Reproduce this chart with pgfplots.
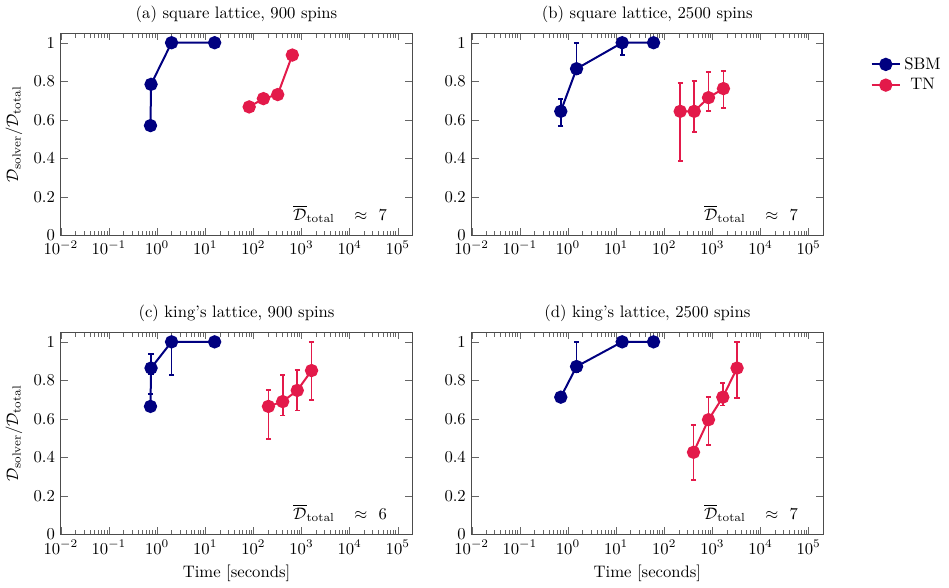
\documentclass[border=0pt]{standalone}
\usepackage{pgfplots}
\pgfplotsset{compat=1.18}
\definecolor{sbm}{RGB}{0,0,128}
\definecolor{tn}{RGB}{227,26,74}
\pgfplotsset{
  chartpanel/.style={
    scale only axis, width=211pt, height=121.5pt,
    xmin=1e-2, xmax=2e5, ymin=0, ymax=1.05,
    xtick={1e-2,1e-1,1,1e1,1e2,1e3,1e4,1e5},
    ytick={0,0.2,0.4,0.6,0.8,1},
    tick align=inside,
    axis line style={black!70},
    tick style={black!60},
    title style={yshift=-3pt},
    clip=false,
  },
  sbmline/.style={color=sbm, line width=1.2pt, mark=*, mark size=3.4pt,
    error bars/y dir=both, error bars/y explicit,
    error bars/error bar style={line width=1.1pt},
    error bars/error mark options={rotate=90, mark size=1.6pt, line width=1.1pt}},
  tnline/.style={color=tn, line width=1.2pt, mark=*, mark size=3.4pt,
    error bars/y dir=both, error bars/y explicit,
    error bars/error bar style={line width=1.1pt},
    error bars/error mark options={rotate=90, mark size=1.6pt, line width=1.1pt}},
}
\newcommand{\dnote}[1]{\node[anchor=base east] at (rel axis cs:0.945,0.075) {$\overline{\mathcal{D}}_{\mathrm{total}}\hspace{0.9em}\approx\hspace{0.4em}#1$};}
\begin{document}
\begin{tikzpicture}
% (a)
\begin{semilogxaxis}[chartpanel, at={(0,0)}, anchor=north west,
  title={(a) square lattice, 900 spins},
  ylabel={$\mathcal{D}_{\mathrm{solver}}/\mathcal{D}_{\mathrm{total}}$}]
\addplot[sbmline] coordinates {(0.73,0.57) (0.75,0.784) (2.0,1.0) (15.7,1.0)};
\addplot[tnline] coordinates {(82,0.667) (162,0.71) (321,0.731) (646,0.936)};
\dnote{7}
\end{semilogxaxis}
% (b)
\begin{semilogxaxis}[chartpanel, at={(246.7pt,0)}, anchor=north west,
  title={(b) square lattice, 2500 spins},
  legend style={at={(1.12,0.915)}, anchor=north west, draw=none, fill=none, font=\normalsize}]
\addplot[sbmline] coordinates {
  (0.71,0.644) += (0,0.066) -= (0,0.076)
  (1.51,0.865) += (0,0.135) -= (0,0.03)
  (13.4,1.0) += (0,0) -= (0,0.062)
  (60,1.0)};
\addlegendentry{SBM}
\addplot[tnline] coordinates {
  (215,0.644) += (0,0.149) -= (0,0.259)
  (420,0.644) += (0,0.156) -= (0,0.109)
  (832,0.715) += (0,0.133) -= (0,0.069)
  (1700,0.762) += (0,0.093) -= (0,0.099)};
\addlegendentry{TN}
\dnote{7}
\end{semilogxaxis}
% (c)
\begin{semilogxaxis}[chartpanel, at={(0,-179.6pt)}, anchor=north west,
  title={(c) king's lattice, 900 spins},
  xlabel={Time [seconds]},
  ylabel={$\mathcal{D}_{\mathrm{solver}}/\mathcal{D}_{\mathrm{total}}$}]
\addplot[sbmline] coordinates {
  (0.73,0.665) += (0,0.065) -= (0,0.015)
  (0.75,0.864) += (0,0.074) -= (0,0.03)
  (2.0,1.0) += (0,0) -= (0,0.17)
  (15.7,1.0)};
\addplot[tnline] coordinates {
  (206,0.665) += (0,0.083) -= (0,0.168)
  (407,0.69) += (0,0.14) -= (0,0.072)
  (818,0.748) += (0,0.107) -= (0,0.104)
  (1620,0.851) += (0,0.149) -= (0,0.151)};
\dnote{6}
\end{semilogxaxis}
% (d)
\begin{semilogxaxis}[chartpanel, at={(246.7pt,-179.6pt)}, anchor=north west,
  title={(d) king's lattice, 2500 spins},
  xlabel={Time [seconds]}]
\addplot[sbmline] coordinates {
  (0.71,0.713)
  (1.51,0.872) += (0,0.128) -= (0,0.03)
  (13.4,1.0)
  (60,1.0)};
\addplot[tnline] coordinates {
  (406,0.427) += (0,0.143) -= (0,0.142)
  (832,0.596) += (0,0.117) -= (0,0.133)
  (1650,0.713) += (0,0.073) -= (0,0.043)
  (3260,0.864) += (0,0.136) -= (0,0.154)};
\dnote{7}
\end{semilogxaxis}
\end{tikzpicture}
\end{document}
